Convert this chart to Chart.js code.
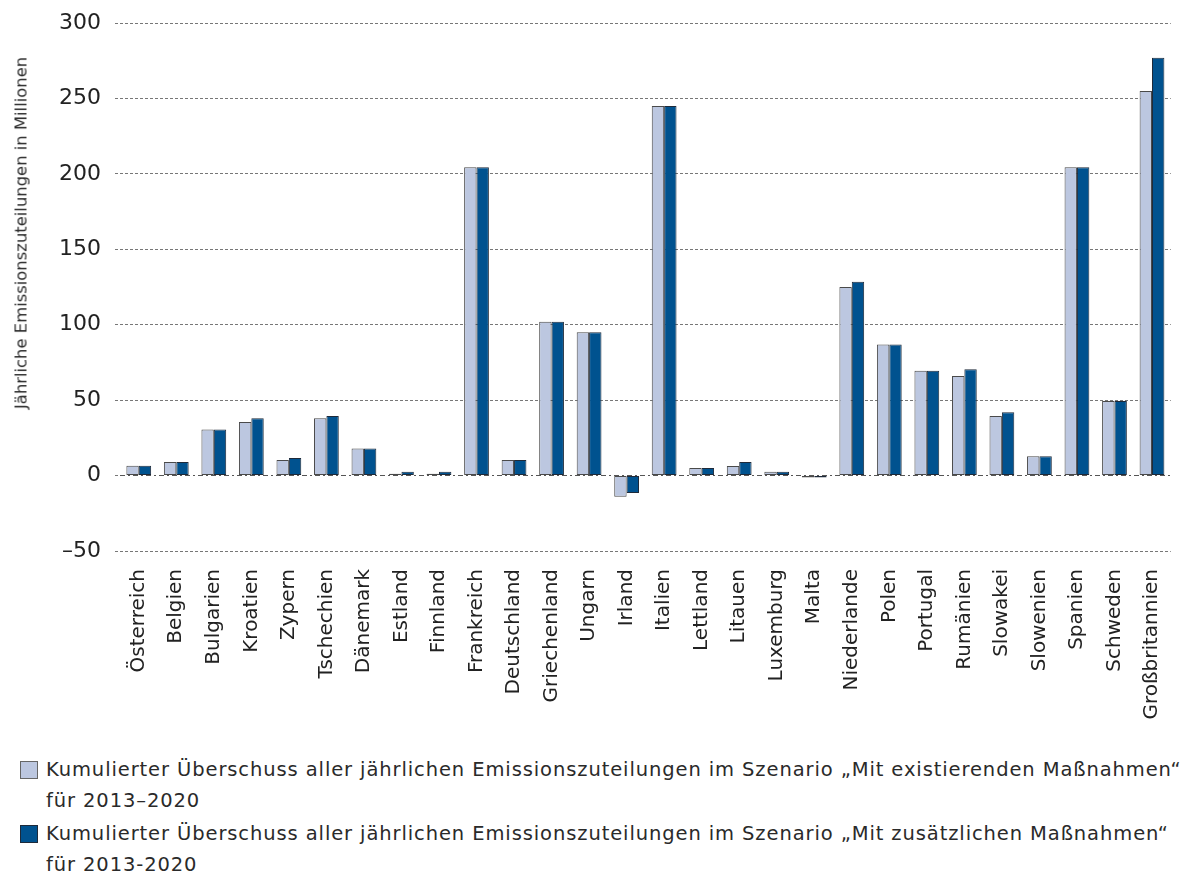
<!DOCTYPE html>
<html>
<head>
<meta charset="utf-8">
<script src="https://cdn.jsdelivr.net/npm/chart.js@4"></script>
<style>
  html, body { margin: 0; padding: 0; background: #fff; overflow: hidden; }
  body { width: 1186px; height: 888px; font-family: "DejaVu Sans", sans-serif; color: #333; position: relative; }
  #wrap { position: absolute; left: 0; top: 0; width: 1186px; height: 735px; }
  #ytitle { position: absolute; left: 21px; top: 233px; transform: translate(-50%, -50%) rotate(-90deg);
            white-space: nowrap; font-size: 16.4px; color: #2a2a2a; }
  .legend { position: absolute; left: 46px; font-size: 19.5px; line-height: 31px; letter-spacing: 0.9px; color: #2a2a2a; white-space: nowrap; }
  .box { position: absolute; left: 20px; width: 16px; height: 16px; border: 1px solid #666; }
</style>
</head>
<body>
<div id="wrap"><canvas id="chart"></canvas></div>
<div id="ytitle">Jährliche Emissionszuteilungen in Millionen</div>
<div class="box" style="top: 761px; background:#bcc7e0"></div>
<div class="legend" style="top: 754px;">Kumulierter Überschuss aller jährlichen Emissionszuteilungen im Szenario „Mit existierenden Maßnahmen“<br>für 2013–2020</div>
<div class="box" style="top: 825px; background:#00528f; border-color:#1e2a3a"></div>
<div class="legend" style="top: 818px;">Kumulierter Überschuss aller jährlichen Emissionszuteilungen im Szenario „Mit zusätzlichen Maßnahmen“<br>für 2013-2020</div>
<script>
// Länder
const countries = ["Österreich", "Belgien", "Bulgarien", "Kroatien", "Zypern", "Tschechien", "Dänemark",
    "Estland", "Finnland", "Frankreich", "Deutschland", "Griechenland", "Ungarn", "Irland", "Italien",
    "Lettland", "Litauen", "Luxemburg", "Malta", "Niederlande", "Polen", "Portugal", "Rumänien",
    "Slowakei", "Slowenien", "Spanien", "Schweden", "Großbritannien"];

// Mit existierenden Maßnahmen
const existing = [6.5, 9, 30.5, 35.5, 10.4, 38, 18, 1.3, 1.3, 204.5, 10.4, 102, 95, -14, 245,
    5, 6.4, 2.6, -1.2, 125, 87, 69.5, 66, 39.5, 12.8, 204.5, 49.5, 255];

// Mit zusätzlichen Maßnahmen
const additional = [6.5, 9, 30.5, 38, 11.7, 39.5, 18, 2.6, 2.6, 204.5, 10.4, 102, 95, -11.5, 245,
    5, 9, 2.6, -1.2, 128.5, 87, 69.5, 70.5, 42, 12.8, 204.5, 49.5, 277];

const yTicks = [-50, 0, 50, 100, 150, 200, 250, 300];

const ctx = document.getElementById("chart").getContext("2d");
new Chart(ctx, {
    type: "bar",
    data: {
        labels: countries,
        datasets: [{
            label: "Mit existierenden Maßnahmen",
            data: existing,
            backgroundColor: "#bcc7e0",
            borderColor: "#4a4a4a",
            borderWidth: 1,
            borderSkipped: false
        }, {
            label: "Mit zusätzlichen Maßnahmen",
            data: additional,
            backgroundColor: "#00528f",
            borderColor: "#1e2a3a",
            borderWidth: 1,
            borderSkipped: false
        }]
    },
    options: {
        responsive: true,
        maintainAspectRatio: false,
        animation: false,
        layout: { padding: { top: 0, right: 0, left: 0, bottom: 0 } },
        plugins: { legend: { display: false }, tooltip: { enabled: false } },
        datasets: { bar: { categoryPercentage: 0.66, barPercentage: 1.0 } },
        scales: {
            x: {
                grid: { display: false },
                border: { display: false },
                ticks: {
                    autoSkip: false,
                    minRotation: 90,
                    maxRotation: 90,
                    padding: 10,
                    color: "#222",
                    font: { family: "DejaVu Sans", size: 20 }
                },
                afterFit: s => { s.height = 184; }
            },
            y: {
                min: -50,
                max: 300,
                afterBuildTicks: s => { s.ticks = yTicks.map(v => ({ value: v })); },
                grid: {
                    color: c => c.tick && c.tick.value === 0 ? "#555" : "#777",
                    lineWidth: 1,
                    tickLength: 5,
                    tickColor: "#777",
                    tickBorderDash: [3, 2]
                },
                border: { display: false, dash: c => c.tick && c.tick.value === 0 ? [5, 3, 2, 3] : [3, 2] },
                ticks: {
                    padding: 14,
                    color: "#222",
                    font: { family: "DejaVu Sans", size: 22, lineHeight: 0.83 },
                    callback: v => v < 0 ? "\u2013" + Math.abs(v) : v
                },
                afterFit: s => { s.width = 120; }
            }
        }
    }
});
</script>
</body>
</html>
